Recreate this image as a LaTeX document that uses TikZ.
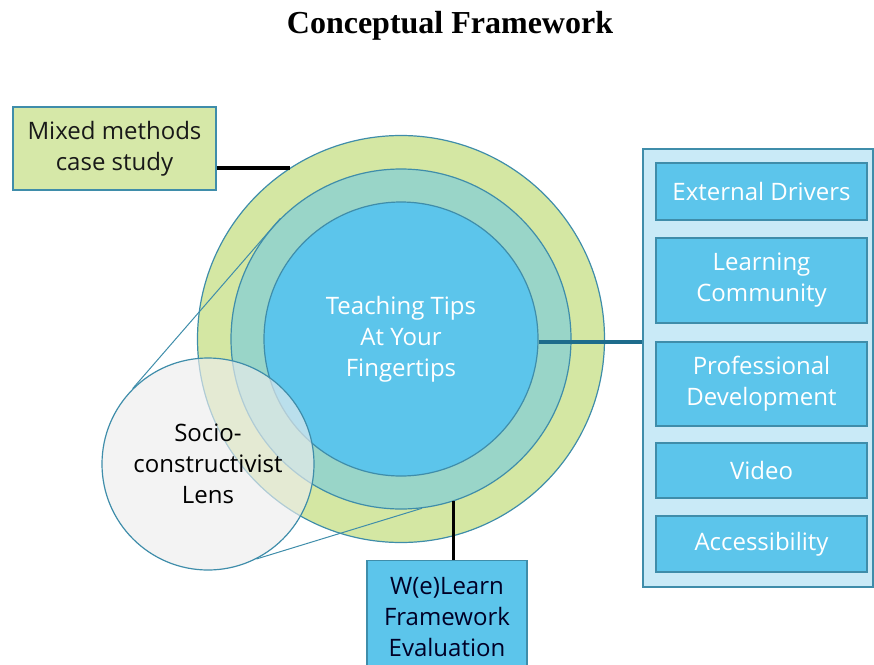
\documentclass[tikz,border=0pt]{standalone}
\usepackage{fontspec}
\setmainfont{Liberation Serif}
\setsansfont{Open Sans}
\definecolor{ringgreen}{HTML}{D4E7A3}
\definecolor{ringteal}{HTML}{99D5C8}
\definecolor{coreblue}{HTML}{5CC5EB}
\definecolor{edge}{HTML}{3F8DAA}
\definecolor{panelblue}{HTML}{C9EAF7}
\definecolor{linkteal}{HTML}{1E6C8C}
\definecolor{lensgray}{HTML}{EDEDED}
\begin{document}
\begin{tikzpicture}[x=1pt, y=-1pt,
  ring/.style={circle, draw=edge, line width=1.2pt, inner sep=0pt},
  txt/.style={font=\sffamily\fontsize{24}{31}\selectfont, align=center},
  item/.style={txt, draw=edge, line width=1.2pt, fill=coreblue, text=white, minimum width=211pt, inner sep=2pt},
  link/.style={line width=3.5pt}]
\useasboundingbox (0,0) rectangle (874,664);

\node[font=\bfseries\fontsize{32}{36}\selectfont] (title) at (450,26) {Conceptual Framework};

\node[ring, fill=ringgreen, minimum size=407pt] (outer) at (401,339) {};
\node[ring, fill=ringteal, minimum size=340pt] (middle) at (401,339) {};
\node[ring, fill=coreblue, minimum size=274pt, txt, text=white] (inner) at (401,339) {Teaching Tips\\At Your\\Fingertips};

\node[ring, fill=lensgray, fill opacity=0.65, text opacity=1, minimum size=212pt, txt, text=black] (lens) at (208,464) {Socio-\\constructivist\\Lens};
\draw[edge, line width=1pt] (lens.135) -- (middle.135);
\draw[edge, line width=1pt] (lens.-63) -- (middle.-83);

\node[txt, draw=edge, line width=1.2pt, fill=ringgreen!95!white, text=black!90, minimum width=203pt, minimum height=83pt] (mixed) at (114.5,148.5) {Mixed methods\\case study};
\draw[link, black] (mixed.east |- outer.123) -- (outer.123);

\node[txt, anchor=north, draw=edge, line width=1.2pt, fill=coreblue, text=black!85!blue, minimum width=160pt, minimum height=112pt, inner sep=1pt] (welearn) at (447,560) {W(e)Learn\\Framework\\Evaluation};
\draw[link, black] (middle.-72) -- (middle.-72 |- welearn.north);

\node[draw=edge, line width=1.2pt, fill=panelblue, minimum width=230pt, minimum height=438pt] (panel) at (758,368) {};
\node[item, minimum height=57pt] (drivers) at (761.5,191.5) {External Drivers};
\node[item, minimum height=85pt] (community) at (761.5,280.5) {Learning\\Community};
\node[item, minimum height=84pt] (profdev) at (761.5,384) {Professional\\Development};
\node[item, minimum height=55pt] (video) at (761.5,470.5) {Video};
\node[item, minimum height=56pt] (access) at (761.5,544) {Accessibility};
\draw[link, linkteal] ([yshift=-3pt]inner.east) -- ([yshift=-3pt]inner.east -| panel.west);

\end{tikzpicture}
\end{document}
